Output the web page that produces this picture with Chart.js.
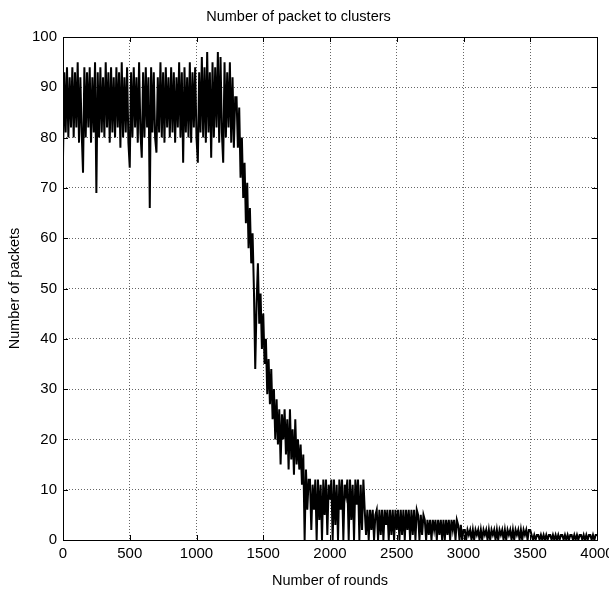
<html>
<head>
<meta charset="utf-8"/>
<title>Number of packet to clusters</title>
<script src="https://cdn.jsdelivr.net/npm/chart.js@4.4.1/dist/chart.umd.min.js"></script>
<style>
  body { margin: 0; background: #fff; }
  canvas { display: block; }
</style>
<script>
// one sample every 10 rounds
var roundStep = 10

// rounds 0 - 1290 : steady, swinging between ~80 and ~94
var steadyPhase = [
  76, 93, 81, 94, 80, 92, 82, 94, 80, 93,
  82, 95, 79, 92, 81, 73, 94, 80, 93, 82,
  94, 79, 92, 81, 95, 69, 93, 80, 94, 81,
  92, 80, 95, 82, 93, 79, 94, 81, 92, 80,
  94, 82, 93, 78, 95, 80, 92, 81, 94, 79,
  74, 93, 80, 94, 82, 92, 79, 95, 81, 76,
  93, 80, 94, 82, 92, 66, 94, 81, 93, 80,
  77, 92, 81, 95, 80, 93, 79, 94, 82, 92,
  80, 94, 81, 93, 79, 92, 82, 95, 80, 93,
  75, 94, 81, 92, 80, 95, 79, 93, 82, 94,
  80, 75, 93, 81, 96, 80, 94, 79, 97, 81,
  93, 76, 95, 80, 94, 82, 97, 79, 96, 81,
  75, 95, 80, 93, 82, 95, 79, 92, 78, 88
]
// rounds 1300 - 1840 : the fall
var declinePhase = [
  88, 78, 86, 72, 80, 68, 75, 63, 71, 58,
  66, 55, 61, 50, 34, 47, 55, 43, 49, 38,
  45, 35, 40, 29, 36, 27, 34, 24, 30, 20,
  28, 19, 26, 15, 25, 20, 26, 17, 24, 14,
  26, 16, 22, 13, 24, 15, 20, 14, 19, 11,
  17, 0, 14, 6, 12
]
// rounds 1850 - 2250
var lowPhase = [
  12, 2, 11, 6, 12, 0, 12, 4, 11, 0,
  12, 5, 12, 1, 11, 8, 12, 0, 12, 3,
  11, 0, 12, 6, 12, 0, 11, 9, 12, 0,
  12, 4, 11, 0, 12, 7, 12, 0, 11, 2,
  12
]
// rounds 2260 - 4000
var tailPhase = [
  6, 1, 6, 0, 6, 2, 6, 0, 5, 6,
  0, 6, 1, 6, 0, 6, 3, 6, 0, 6,
  1, 6, 0, 6, 2, 6, 0, 6, 1, 6,
  0, 6, 2, 6, 0, 6, 1, 6, 0, 6,
  5, 0, 5, 1, 5,
  4, 0, 4, 1, 4, 0, 4, 2, 4, 0,
  4, 1, 4, 0, 4, 0, 4, 1, 4, 0,
  4, 2, 4, 0, 4,
  3, 0, 3, 0, 2,
  2, 0, 2, 1, 2, 0, 2, 0, 2, 1,
  2, 0, 2, 0, 2, 1, 2, 0, 2, 0,
  2, 1, 2, 0, 2, 0, 2, 1, 2, 0,
  2, 0, 2, 1, 2, 0, 2, 0, 2, 1,
  2, 0, 2, 0, 2, 1, 2, 0, 2, 2,
  1, 0, 1, 0, 1, 1, 0, 1, 0, 1,
  0, 1, 0, 1, 1, 0, 1, 0, 1, 0,
  1, 0, 1, 1, 0, 1, 0, 1, 0, 1,
  1, 0, 1, 0, 1, 0, 1, 1, 0, 1,
  0, 1, 0, 1, 1, 0, 1, 0, 1, 1
]

var xTicks = [0, 500, 1000, 1500, 2000, 2500, 3000, 3500, 4000]
var yTicks = [0, 10, 20, 30, 40, 50, 60, 70, 80, 90, 100]

var font = "'Liberation Sans', Arial, sans-serif"

// MATLAB style box with ticks pointing inwards
var marcoPlugin = {
  id: 'marco',
  afterDraw: (chart) => {
    var ctx = chart.ctx
    var a = chart.chartArea
    var xs = chart.scales.x
    var ys = chart.scales.y
    ctx.save()
    ctx.strokeStyle = '#000'
    ctx.lineWidth = 1
    ctx.strokeRect(Math.round(a.left) + 0.5, Math.round(a.top) + 0.5, Math.round(a.right - a.left), Math.round(a.bottom - a.top))
    ctx.beginPath()
    xTicks.forEach((t) => {
      var px = Math.round(xs.getPixelForValue(t)) + 0.5
      ctx.moveTo(px, a.bottom); ctx.lineTo(px, a.bottom - 5)
      ctx.moveTo(px, a.top); ctx.lineTo(px, a.top + 5)
    })
    yTicks.forEach((t) => {
      var py = Math.round(ys.getPixelForValue(t)) + 0.5
      ctx.moveTo(a.left, py); ctx.lineTo(a.left + 5, py)
      ctx.moveTo(a.right, py); ctx.lineTo(a.right - 5, py)
    })
    ctx.stroke()
    ctx.restore()
  }
}

window.onload = () => {
  var packets = steadyPhase.concat(declinePhase, lowPhase, tailPhase)
  var puntos = packets.map((v, i) => ({ x: i * roundStep, y: v }))

  var contenedor = document.getElementById('grafica')
  new Chart(contenedor, {
    type: 'line',
    data: {
      datasets: [{
        data: puntos,
        borderColor: '#000',
        borderWidth: 2,
        pointRadius: 0,
        tension: 0,
        fill: false
      }]
    },
    options: {
      responsive: false,
      animation: false,
      layout: { padding: { left: 0, right: 12, top: 0, bottom: 0 } },
      plugins: {
        legend: { display: false },
        tooltip: { enabled: false },
        title: {
          display: true,
          text: 'Number of packet to clusters',
          color: '#000',
          font: { family: font, size: 14.5, weight: 'normal' },
          padding: { top: 8, bottom: 11.6 }
        }
      },
      scales: {
        x: {
          type: 'linear',
          min: 0,
          max: 4000,
          afterBuildTicks: (s) => { s.ticks = xTicks.map((v) => ({ value: v })) },
          afterFit: (s) => { s.height = 55; s.paddingLeft = 0; s.paddingRight = 0 },
          ticks: {
            color: '#000',
            font: { family: font, size: 15 },
            padding: 5,
            maxRotation: 0,
            autoSkip: false,
            callback: (v) => String(v)
          },
          grid: { color: '#666', lineWidth: 1, drawTicks: false },
          border: { display: false, dash: [1, 2] },
          title: {
            display: true,
            text: 'Number of rounds',
            color: '#000',
            font: { family: font, size: 14.5 },
            padding: { top: 0, bottom: 5 }
          }
        },
        y: {
          min: 0,
          max: 100,
          afterBuildTicks: (s) => { s.ticks = yTicks.map((v) => ({ value: v })) },
          afterFit: (s) => { s.width = 63; s.paddingTop = 0; s.paddingBottom = 0 },
          ticks: {
            color: '#000',
            font: { family: font, size: 15 },
            padding: 6,
            callback: (v) => String(v)
          },
          grid: { color: '#666', lineWidth: 1, drawTicks: false },
          border: { display: false, dash: [1, 2] },
          title: {
            display: true,
            text: 'Number of packets',
            color: '#000',
            font: { family: font, size: 14.5 },
            padding: { top: 6, bottom: 0 }
          }
        }
      }
    },
    plugins: [marcoPlugin]
  })
}
</script>
</head>
<body>
  <canvas id="grafica" width="609" height="595"></canvas>
</body>
</html>
